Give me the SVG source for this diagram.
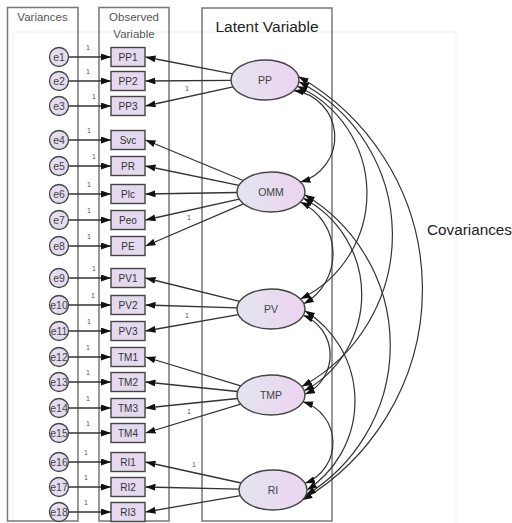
<svg xmlns="http://www.w3.org/2000/svg" width="512" height="523" viewBox="0 0 512 523">
<defs>
<style>
.frame{fill:none;stroke:#777;stroke-width:1.5}
.hdr{font-family:"Liberation Sans",Arial,sans-serif;font-size:11.5px;fill:#555}
.err circle{fill:#e6dcef;stroke:#444;stroke-width:1.3}
.err text{font-family:"Liberation Sans",Arial,sans-serif;font-size:10.5px;fill:#444;text-anchor:middle}
.obs rect{fill:#e4d9ee;stroke:#444;stroke-width:1.4}
.obs text{font-family:"Liberation Sans",Arial,sans-serif;font-size:10px;fill:#333;text-anchor:middle}
.lat ellipse{fill:url(#lg);stroke:#444;stroke-width:1.4}
.lat text{font-family:"Liberation Sans",Arial,sans-serif;font-size:10.5px;fill:#444;text-anchor:middle}
.c line{stroke:#333;stroke-width:1.3;marker-end:url(#ah)}
.c path{fill:none;stroke:#333;stroke-width:1.2;marker-start:url(#ah2);marker-end:url(#ah2)}
.one{font-family:"Liberation Sans",Arial,sans-serif;font-size:7px;fill:#555;text-anchor:middle}
</style>
<linearGradient id="lg" x1="0" y1="0" x2="1" y2="0">
<stop offset="0" stop-color="#e3e4ee"/>
<stop offset="1" stop-color="#ecd4f1"/>
</linearGradient>
<marker id="ah" markerUnits="userSpaceOnUse" markerWidth="10" markerHeight="7" refX="10" refY="3.5" orient="auto"><path d="M0,0 L10,3.5 L0,7 Z" fill="#111"/></marker>
<marker id="ah2" markerUnits="userSpaceOnUse" markerWidth="10" markerHeight="7" refX="10" refY="3.5" orient="auto-start-reverse"><path d="M0,0 L10,3.5 L0,7 Z" fill="#111"/></marker>
</defs>
<rect width="512" height="523" fill="#fff"/>
<rect x="13" y="32" width="443" height="500" fill="none" stroke="#efefef" stroke-width="1"/>
<g id="frames">
<rect class="frame" x="7.5" y="7.5" width="70.5" height="513.5"/>
<rect class="frame" x="99" y="7.5" width="70" height="513.5"/>
<rect class="frame" x="202" y="8" width="130" height="513"/>
<text class="hdr" x="42.5" y="21" text-anchor="middle">Variances</text>
<text class="hdr" x="134" y="21" text-anchor="middle">Observed</text>
<text class="hdr" x="134" y="38" text-anchor="middle">Variable</text>
<text x="267" y="32" text-anchor="middle" style="font-family:'Liberation Sans',Arial,sans-serif;font-size:15.5px;fill:#222">Latent Variable</text>
<text x="427" y="235" style="font-family:'Liberation Sans',Arial,sans-serif;font-size:15.3px;fill:#222">Covariances</text>
</g>
<g id="connectors" class="c">
<line x1="68.5" y1="57" x2="111" y2="57"/>
<line x1="68.5" y1="81" x2="111" y2="81"/>
<line x1="68.5" y1="106" x2="111" y2="106"/>
<line x1="68.5" y1="140" x2="111" y2="140"/>
<line x1="68.5" y1="166" x2="111" y2="166"/>
<line x1="68.5" y1="194" x2="111" y2="194"/>
<line x1="68.5" y1="220" x2="111" y2="220"/>
<line x1="68.5" y1="246" x2="111" y2="246"/>
<line x1="68.5" y1="278" x2="111" y2="278"/>
<line x1="68.5" y1="305" x2="111" y2="305"/>
<line x1="68.5" y1="331" x2="111" y2="331"/>
<line x1="68.5" y1="357" x2="111" y2="357"/>
<line x1="68.5" y1="382" x2="111" y2="382"/>
<line x1="68.5" y1="408" x2="111" y2="408"/>
<line x1="68.5" y1="433" x2="111" y2="433"/>
<line x1="68.5" y1="462" x2="111" y2="462"/>
<line x1="68.5" y1="487" x2="111" y2="487"/>
<line x1="68.5" y1="512" x2="111" y2="512"/>
<line x1="232.7" y1="73.8" x2="145.5" y2="57"/>
<line x1="231" y1="80.3" x2="145.5" y2="81"/>
<line x1="233.1" y1="86.9" x2="145.5" y2="106"/>
<line x1="243.2" y1="180.5" x2="145.5" y2="140"/>
<line x1="238.9" y1="185.4" x2="145.5" y2="166"/>
<line x1="237" y1="192.5" x2="145.5" y2="194"/>
<line x1="239.2" y1="199.1" x2="145.5" y2="220"/>
<line x1="243.5" y1="203.8" x2="145.5" y2="246"/>
<line x1="239.6" y1="301.3" x2="145.5" y2="278"/>
<line x1="237.1" y1="307.9" x2="145.5" y2="305"/>
<line x1="238.4" y1="314.7" x2="145.5" y2="331"/>
<line x1="240.7" y1="385.9" x2="145.5" y2="357"/>
<line x1="237.5" y1="391.5" x2="145.5" y2="382"/>
<line x1="237.5" y1="398.5" x2="145.5" y2="408"/>
<line x1="240.7" y1="404.1" x2="145.5" y2="433"/>
<line x1="241.1" y1="483" x2="145.5" y2="462"/>
<line x1="239" y1="489.2" x2="145.5" y2="487"/>
<line x1="240.4" y1="495.6" x2="145.5" y2="512"/>
<path d="M293.8,90.6 A46.7,46.7 0 0 1 300.4,182"/>
<path d="M297.3,86.2 A117.2,117.2 0 0 1 300.4,299"/>
<path d="M298.9,81.7 A172.2,172.2 0 0 1 301.8,386.5"/>
<path d="M298.5,76.5 A244.8,244.8 0 0 1 302.4,500"/>
<path d="M300.4,202 A57.4,57.4 0 0 1 303.8,303.8"/>
<path d="M303.3,198.2 A109,109 0 0 1 304.3,390.8"/>
<path d="M304.7,194.8 A175.2,175.2 0 0 1 305.8,495.2"/>
<path d="M303.3,315.2 A43.1,43.1 0 0 1 305,394.3"/>
<path d="M304.9,310.7 A106.5,106.5 0 0 1 307,490"/>
<path d="M303,401.8 A43.1,43.1 0 0 1 305,483.2"/>
<text class="one" x="88" y="50">1</text>
<text class="one" x="88" y="74">1</text>
<text class="one" x="94" y="99">1</text>
<text class="one" x="89" y="133">1</text>
<text class="one" x="94" y="159">1</text>
<text class="one" x="89" y="187">1</text>
<text class="one" x="89" y="213">1</text>
<text class="one" x="89" y="239">1</text>
<text class="one" x="94" y="271">1</text>
<text class="one" x="93" y="298">1</text>
<text class="one" x="89" y="324">1</text>
<text class="one" x="88" y="350">1</text>
<text class="one" x="88" y="375">1</text>
<text class="one" x="88" y="401">1</text>
<text class="one" x="88" y="426">1</text>
<text class="one" x="86" y="455">1</text>
<text class="one" x="86" y="480">1</text>
<text class="one" x="86" y="505">1</text>
<text class="one" x="187" y="91">1</text>
<text class="one" x="189" y="220">1</text>
<text class="one" x="187" y="318">1</text>
<text class="one" x="189" y="414">1</text>
<text class="one" x="194" y="467">1</text>
</g>
<g id="e1" class="err"><circle cx="59" cy="57" r="9.5"/><text x="59" y="61">e1</text></g>
<g id="e2" class="err"><circle cx="59" cy="81" r="9.5"/><text x="59" y="85">e2</text></g>
<g id="e3" class="err"><circle cx="59" cy="106" r="9.5"/><text x="59" y="110">e3</text></g>
<g id="e4" class="err"><circle cx="59" cy="140" r="9.5"/><text x="59" y="144">e4</text></g>
<g id="e5" class="err"><circle cx="59" cy="166" r="9.5"/><text x="59" y="170">e5</text></g>
<g id="e6" class="err"><circle cx="59" cy="194" r="9.5"/><text x="59" y="198">e6</text></g>
<g id="e7" class="err"><circle cx="59" cy="220" r="9.5"/><text x="59" y="224">e7</text></g>
<g id="e8" class="err"><circle cx="59" cy="246" r="9.5"/><text x="59" y="250">e8</text></g>
<g id="e9" class="err"><circle cx="59" cy="278" r="9.5"/><text x="59" y="282">e9</text></g>
<g id="e10" class="err"><circle cx="59" cy="305" r="9.5"/><text x="59" y="309">e10</text></g>
<g id="e11" class="err"><circle cx="59" cy="331" r="9.5"/><text x="59" y="335">e11</text></g>
<g id="e12" class="err"><circle cx="59" cy="357" r="9.5"/><text x="59" y="361">e12</text></g>
<g id="e13" class="err"><circle cx="59" cy="382" r="9.5"/><text x="59" y="386">e13</text></g>
<g id="e14" class="err"><circle cx="59" cy="408" r="9.5"/><text x="59" y="412">e14</text></g>
<g id="e15" class="err"><circle cx="59" cy="433" r="9.5"/><text x="59" y="437">e15</text></g>
<g id="e16" class="err"><circle cx="59" cy="462" r="9.5"/><text x="59" y="466">e16</text></g>
<g id="e17" class="err"><circle cx="59" cy="487" r="9.5"/><text x="59" y="491">e17</text></g>
<g id="e18" class="err"><circle cx="59" cy="512" r="9.5"/><text x="59" y="516">e18</text></g>
<g id="PP1" class="obs"><rect x="111" y="47.5" width="34" height="19"/><text x="128" y="60.5">PP1</text></g>
<g id="PP2" class="obs"><rect x="111" y="71.5" width="34" height="19"/><text x="128" y="84.5">PP2</text></g>
<g id="PP3" class="obs"><rect x="111" y="96.5" width="34" height="19"/><text x="128" y="109.5">PP3</text></g>
<g id="Svc" class="obs"><rect x="111" y="130.5" width="34" height="19"/><text x="128" y="143.5">Svc</text></g>
<g id="PR" class="obs"><rect x="111" y="156.5" width="34" height="19"/><text x="128" y="169.5">PR</text></g>
<g id="Plc" class="obs"><rect x="111" y="184.5" width="34" height="19"/><text x="128" y="197.5">Plc</text></g>
<g id="Peo" class="obs"><rect x="111" y="210.5" width="34" height="19"/><text x="128" y="223.5">Peo</text></g>
<g id="PE" class="obs"><rect x="111" y="236.5" width="34" height="19"/><text x="128" y="249.5">PE</text></g>
<g id="PV1" class="obs"><rect x="111" y="268.5" width="34" height="19"/><text x="128" y="281.5">PV1</text></g>
<g id="PV2" class="obs"><rect x="111" y="295.5" width="34" height="19"/><text x="128" y="308.5">PV2</text></g>
<g id="PV3" class="obs"><rect x="111" y="321.5" width="34" height="19"/><text x="128" y="334.5">PV3</text></g>
<g id="TM1" class="obs"><rect x="111" y="347.5" width="34" height="19"/><text x="128" y="360.5">TM1</text></g>
<g id="TM2" class="obs"><rect x="111" y="372.5" width="34" height="19"/><text x="128" y="385.5">TM2</text></g>
<g id="TM3" class="obs"><rect x="111" y="398.5" width="34" height="19"/><text x="128" y="411.5">TM3</text></g>
<g id="TM4" class="obs"><rect x="111" y="423.5" width="34" height="19"/><text x="128" y="436.5">TM4</text></g>
<g id="RI1" class="obs"><rect x="111" y="452.5" width="34" height="19"/><text x="128" y="465.5">RI1</text></g>
<g id="RI2" class="obs"><rect x="111" y="477.5" width="34" height="19"/><text x="128" y="490.5">RI2</text></g>
<g id="RI3" class="obs"><rect x="111" y="502.5" width="34" height="19"/><text x="128" y="515.5">RI3</text></g>
<g id="PP" class="lat"><ellipse cx="265" cy="80" rx="34" ry="20"/><text x="265" y="84">PP</text></g>
<g id="OMM" class="lat"><ellipse cx="271" cy="192" rx="34" ry="20"/><text x="271" y="196">OMM</text></g>
<g id="PV" class="lat"><ellipse cx="271" cy="309" rx="34" ry="20"/><text x="271" y="313">PV</text></g>
<g id="TMP" class="lat"><ellipse cx="271" cy="395" rx="34" ry="20"/><text x="271" y="399">TMP</text></g>
<g id="RI" class="lat"><ellipse cx="273" cy="490" rx="34" ry="20"/><text x="273" y="494">RI</text></g>
</svg>
